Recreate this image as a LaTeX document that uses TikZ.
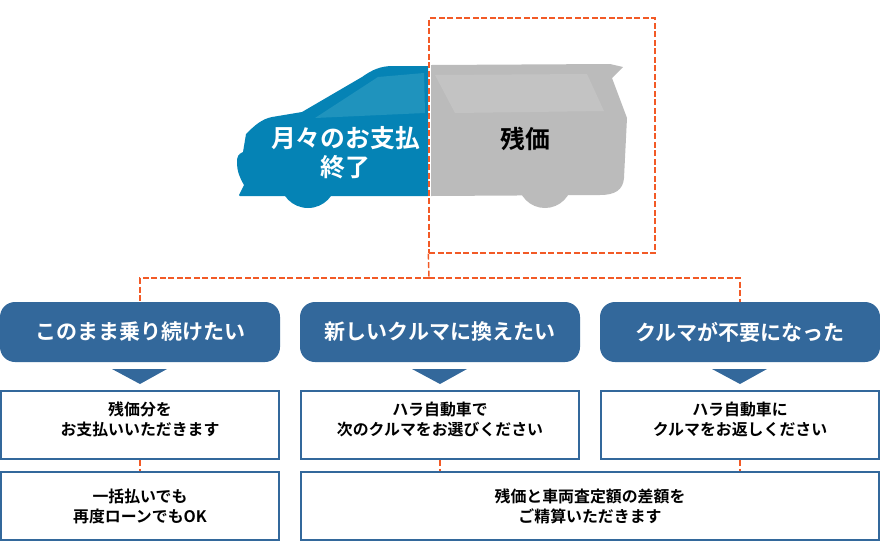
\documentclass[tikz,border=0pt]{standalone}
\usepackage{fontspec}
\setmainfont{Noto Sans CJK JP}[BoldFont={Noto Sans CJK JP Bold}]
\lineskiplimit=-100pt
\definecolor{carblue}{HTML}{0583B5}
\definecolor{winblue}{HTML}{1F93BD}
\definecolor{cargray}{HTML}{BBBBBB}
\definecolor{wingray}{HTML}{C3C3C3}
\definecolor{navy}{HTML}{33689B}
\definecolor{dashor}{HTML}{F25A26}
\newcommand{\upfix}{\\[-6.6pt]\mbox{}}
\tikzset{
 btn/.style={fill=navy,rounded corners=15pt,minimum width=280pt,minimum height=60pt,inner sep=0pt,text=white,font=\fontsize{21}{24}\selectfont\bfseries},
 infobox/.style={draw=navy,line width=2.2pt,fill=white,minimum height=67.8pt,inner sep=0pt,align=center,text=black,font=\fontsize{15.9}{20}\selectfont\bfseries},
 conn/.style={draw=dashor,line width=1.4pt,dash pattern=on 6pt off 2.5pt},
 tri/.style={fill=navy},
 cartext/.style={align=center,font=\fontsize{24.8}{29}\selectfont\bfseries}
}
\begin{document}
\begin{tikzpicture}[x=1pt,y=-1pt]
\useasboundingbox (0,0) rectangle (880,558);
% blue half of car
\fill[carblue] (428,66) -- (393,66) .. controls (380,66) and (372,70) .. (362,77)
 -- (302,112) -- (272,117) .. controls (262,119) and (255,125) .. (246,134)
 -- (243,152) .. controls (238,154) and (237,157) .. (237,162)
 .. controls (237,172) and (240,178) .. (244,185) -- (239,195) -- (240,196) -- (428,196) -- cycle;
\fill[carblue] (308,180) circle[radius=28];
\fill[winblue] (424,73) -- (378,77) -- (315,118) -- (425,113) -- cycle;
% gray half of car
\fill[cargray] (431,65) -- (610,64) -- (623,67) -- (612,78) -- (627,118) -- (624,178)
 .. controls (623,190) and (615,195) .. (600,195) -- (431,196) -- cycle;
\fill[cargray] (545,181) circle[radius=27];
\fill[wingray] (435,75) -- (587,74) -- (604,111) -- (455,113) -- cycle;
% car labels
\node[cartext,text=white] (pay) at (345.5,153) {月々のお支払\\終了};
\node[cartext,text=black] (rest) at (525,139) {残価};
% residual value frame
\node[conn,draw,minimum width=226pt,minimum height=235pt,inner sep=0pt] (frame) at (542,135.5) {};
% buttons
\node[btn] (b1) at (140,332) {このまま乗り続けたい};
\node[btn] (b2) at (440,332) {新しいクルマに換えたい};
\node[btn] (b3) at (740,332) {クルマが不要になった};
% triangles
\fill[tri] (112,369) -- (167,369) -- (140,384) -- cycle;
\fill[tri] (412,369) -- (467,369) -- (440,384) -- cycle;
\fill[tri] (712,369) -- (767,369) -- (740,384) -- cycle;
% info boxes
\node[infobox,minimum width=277.8pt] (i1) at (140,425) {残価分を\\お支払いいただきます\upfix};
\node[infobox,minimum width=277.8pt] (i2) at (440,425) {ハラ自動車で\\次のクルマをお選びください\upfix};
\node[infobox,minimum width=277.8pt] (i3) at (740,425) {ハラ自動車に\\クルマをお返しください\upfix};
\node[infobox,minimum width=277.8pt] (o1) at (140,506) {一括払いでも\\再度ローンでもOK};
\node[infobox,minimum width=577.8pt] (o2) at (590,506) {残価と車両査定額の差額を\\ご精算いただきます};
% connectors
\coordinate (junc) at (429,278);
\draw[conn] (frame.south west) -- (junc);
\draw[conn] (junc) -| (b1.north);
\draw[conn] (junc) -| (b3.north);
\draw[conn] (i1.south) -- (o1.north);
\draw[conn] (i2.south) -- (i2.south |- o2.north);
\draw[conn] (i3.south) -- (i3.south |- o2.north);
\end{tikzpicture}
\end{document}
